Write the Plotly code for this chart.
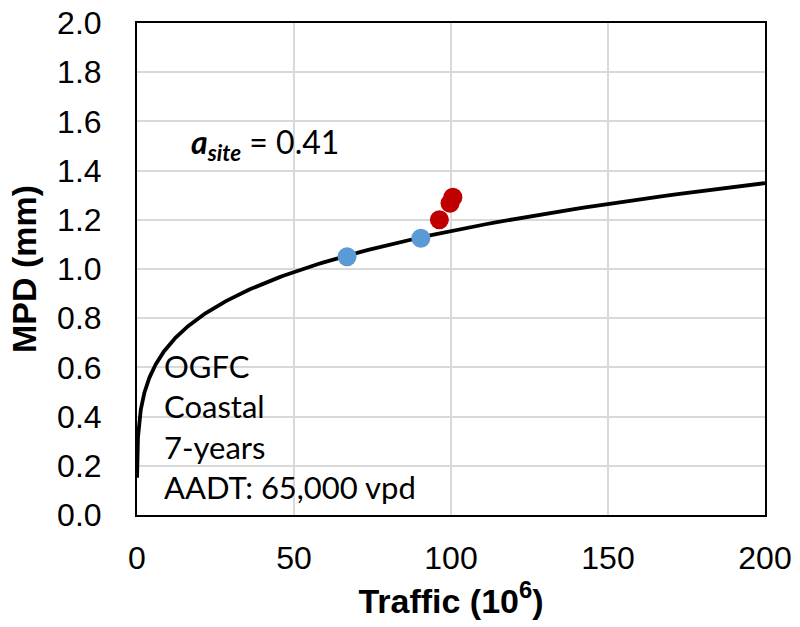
import numpy as np
import plotly.graph_objects as go

# Measured sites: traffic (million vehicles) vs mean profile depth (mm)
early_traffic = [66.9, 90.4]
early_mpd = [1.05, 1.125]
late_traffic = [96.3, 99.7, 100.6]
late_mpd = [1.20, 1.267, 1.292]

# Site power-law model: MPD = a_site * T^b
a_site = 0.41
b_exp = 0.2248
model_t = np.logspace(np.log10(0.012), np.log10(200), 400)
model_mpd = a_site * model_t ** b_exp

x_ticks = [0, 50, 100, 150, 200]
y_ticks = [0.0, 0.2, 0.4, 0.6, 0.8, 1.0, 1.2, 1.4, 1.6, 1.8, 2.0]

fig = go.Figure()
fig.add_trace(go.Scatter(x=model_t, y=model_mpd, mode="lines",
                         line=dict(color="black", width=3.8), showlegend=False,
                         hoverinfo="skip"))
fig.add_trace(go.Scatter(x=early_traffic, y=early_mpd, mode="markers",
                         marker=dict(color="#5B9BD5", size=19), showlegend=False))
fig.add_trace(go.Scatter(x=late_traffic, y=late_mpd, mode="markers",
                         marker=dict(color="#C00000", size=19), showlegend=False))

tick_font = dict(family="Liberation Sans, Arial, sans-serif", size=32, color="black")
title_font = dict(family="Liberation Sans, Arial, sans-serif", size=34, color="black")
note_font = dict(family="Lato, Open Sans, sans-serif", size=31, color="black")

fig.update_xaxes(range=[0, 200], tickvals=x_ticks, ticktext=[str(v) for v in x_ticks],
                 showgrid=True, gridcolor="#d9d9d9", gridwidth=1.5,
                 showline=True, linecolor="black", linewidth=2, mirror=True,
                 zeroline=False, ticks="", ticklabelstandoff=14, tickfont=tick_font,
                 automargin=False,
                 title=dict(text="<b>Traffic (10<sup>6</sup>)</b>", font=title_font, standoff=4))
fig.update_yaxes(range=[0, 2.0], tickvals=y_ticks, ticktext=[f"{v:.1f}" for v in y_ticks],
                 showgrid=True, gridcolor="#d9d9d9", gridwidth=1.5,
                 showline=True, linecolor="black", linewidth=2, mirror=True,
                 zeroline=False, ticks="", ticklabelstandoff=27, tickfont=tick_font,
                 automargin=False,
                 title=dict(text="<b>MPD (mm)</b>", font=title_font, standoff=10))

fig.add_annotation(x=0.083, y=0.755, xref="paper", yref="paper", xanchor="left", yanchor="middle",
                   text=f"<b><i>a<sub>site</sub></i></b> = {a_site:.2f}", showarrow=False,
                   font=dict(family="Lato, Open Sans, sans-serif", size=32, color="black"))
fig.add_annotation(x=0.04, y=0.015, xref="paper", yref="paper", xanchor="left", yanchor="bottom",
                   text="OGFC<br>Coastal<br>7-years<br>AADT: 65,000 vpd", align="left",
                   showarrow=False, font=note_font)

fig.update_layout(width=800, height=627, margin=dict(l=137, r=35, t=23, b=112),
                  plot_bgcolor="white", paper_bgcolor="white")

fig.write_html("out.html")
